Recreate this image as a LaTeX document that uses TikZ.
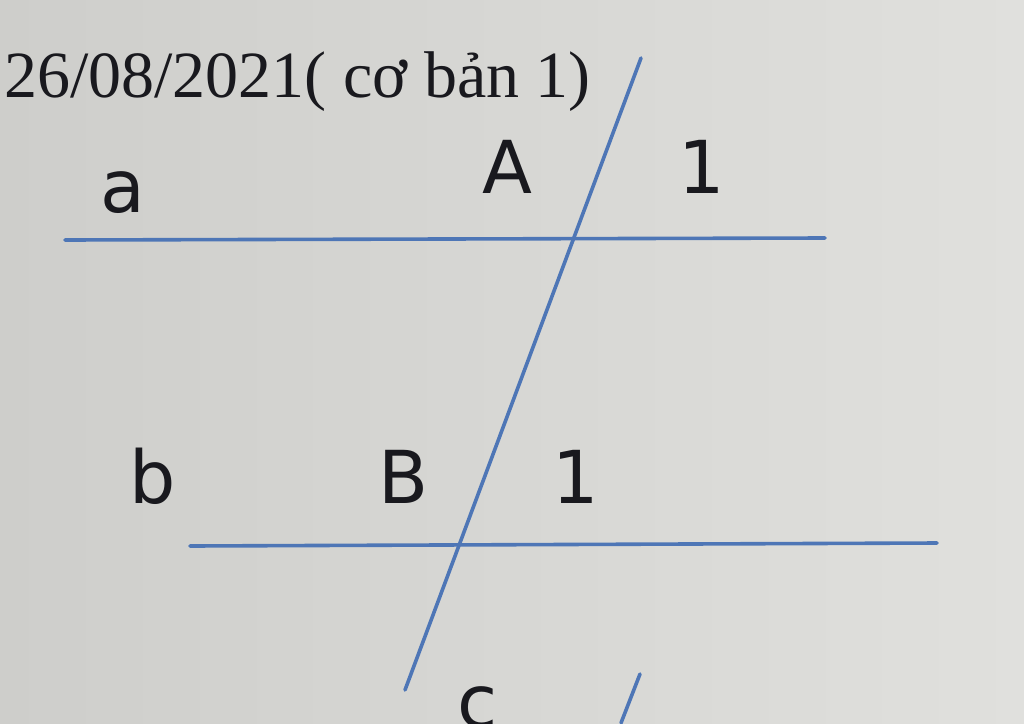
\documentclass[tikz,border=0pt]{standalone}
\usepackage{fontspec}
\setmainfont{Liberation Serif}
\newfontfamily\labelfont{DejaVu Sans}
\definecolor{bgleft}{RGB}{206,206,203}
\definecolor{bgright}{RGB}{224,224,221}
\definecolor{lineblue}{RGB}{78,118,182}
\definecolor{inkdark}{RGB}{25,25,30}
\tikzset{
  lbl/.style={anchor=base, inner sep=0pt, text=inkdark, font=\labelfont\fontsize{73}{73}\selectfont},
  ttl/.style={anchor=base west, inner sep=0pt, text=inkdark, font=\fontsize{66}{66}\selectfont},
  geoline/.style={draw=lineblue, line width=3.6pt, line cap=round}
}
\begin{document}
\begin{tikzpicture}[x=1pt,y=-1pt]
\shade[left color=bgleft, right color=bgright] (0,0) rectangle (1024,723);
\useasboundingbox (0,0) rectangle (1024,723);
% title
\node[ttl] (title) at (4,97) {26/08/2021( cơ bản 1)};
% line endpoints
\coordinate (a1) at (65,240);
\coordinate (a2) at (825,238);
\coordinate (b1) at (190,546);
\coordinate (b2) at (937,543);
\coordinate (c1) at (641,58);
\coordinate (c2) at (405,690);
\coordinate (d1) at (640,674);
\coordinate (d2) at (621,723);
\draw[geoline] (a1) -- (a2);
\draw[geoline] (b1) -- (b2);
\draw[geoline] (c1) -- (c2);
\draw[geoline] (d1) -- (d2);
% labels
\node[lbl] (la) at (123,212) {a};
\node[lbl] (lA) at (507,193) {A};
\node[lbl] (l1A) at (702,193) {1};
\node[lbl] (lb) at (153,503) {b};
\node[lbl] (lB) at (404,503) {B};
\node[lbl] (l1B) at (576,503) {1};
\node[lbl] (lc) at (478,727) {c};
\end{tikzpicture}
\end{document}
